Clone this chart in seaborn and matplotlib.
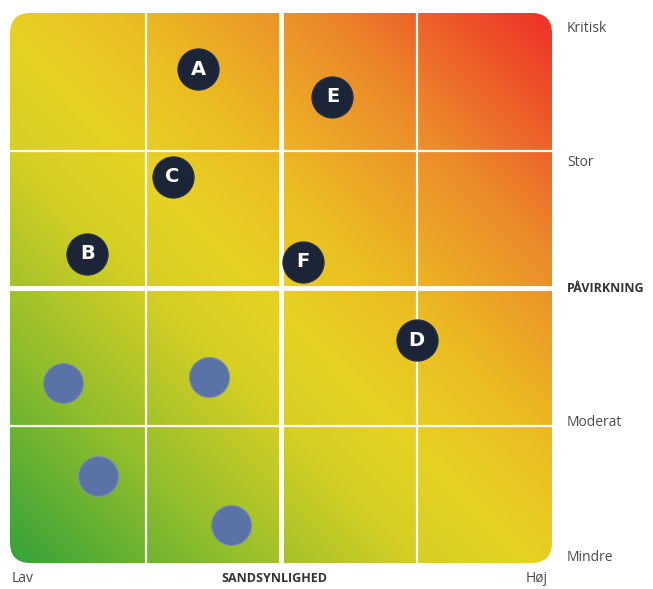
import numpy as np
import pandas as pd
import matplotlib
matplotlib.use("Agg")
import matplotlib.pyplot as plt
from matplotlib.colors import LinearSegmentedColormap
from matplotlib.patches import FancyBboxPatch
import seaborn as sns

# Named risks: probability (x) and impact (y) on a 0-4 scale
risk_labels = ["A", "B", "C", "D", "E", "F"]
risk_prob = [1.39, 0.57, 1.20, 3.00, 2.38, 2.16]
risk_impact = [3.59, 2.25, 2.81, 1.62, 3.39, 2.19]

# Unnamed (mitigated) risks
other_prob = [0.39, 1.47, 0.65, 1.63]
other_impact = [1.31, 1.35, 0.63, 0.28]

impact_levels = ["Mindre", "Moderat", "Stor", "Kritisk"]
impact_title = "PÅVIRKNING"
prob_title = "SANDSYNLIGHED"
prob_ends = ["Lav", "Høj"]

sns.set_theme(style="white")
plt.rcParams["font.family"] = ["Open Sans", "DejaVu Sans"]

fig = plt.figure(figsize=(6.53, 5.89), dpi=100)
ax = fig.add_axes([10 / 653, (589 - 563) / 589, 542 / 653, 550 / 589])
ax.set_xlim(0, 4)
ax.set_ylim(0, 4)
ax.set_axis_off()

# Diagonal heat gradient: green -> yellow -> orange -> red
cmap = LinearSegmentedColormap.from_list(
    "risk",
    [(0.0, "#35a23a"), (0.2, "#8fbd2c"), (0.38, "#d6cf24"), (0.48, "#e6d222"),
     (0.6, "#ebbd22"), (0.78, "#ec8a2a"), (1.0, "#ef3028")],
)
gx, gy = np.meshgrid(np.linspace(0, 4, 400), np.linspace(0, 4, 400))
t = (gx + gy) / 8
img = ax.imshow(t, extent=[0, 4, 0, 4], origin="lower", cmap=cmap,
                vmin=0, vmax=1, aspect="auto", interpolation="bilinear", zorder=0)
clip = FancyBboxPatch((0, 0), 4, 4, boxstyle="round,pad=0,rounding_size=0.15",
                      transform=ax.transData, facecolor="none", edgecolor="none")
ax.add_patch(clip)
img.set_clip_path(clip)

# Cell dividers
for v, lw in [(1, 1.6), (2, 3.5), (3, 1.6)]:
    ax.axvline(v, color="white", lw=lw, zorder=1)
    ax.axhline(v, color="white", lw=lw, zorder=1)

others = pd.DataFrame({"p": other_prob, "i": other_impact})
sns.scatterplot(data=others, x="p", y="i", ax=ax, s=830, color="#5a73a6",
                edgecolor="#7d8fa6", linewidth=0.8, zorder=3, legend=False)

risks = pd.DataFrame({"label": risk_labels, "p": risk_prob, "i": risk_impact})
sns.scatterplot(data=risks, x="p", y="i", ax=ax, s=880, color="#1c2438",
                edgecolor="#2b3146", linewidth=0.8, zorder=3, legend=False)
for _, r in risks.iterrows():
    ax.text(r.p, r.i, r.label, color="white", fontsize=14, fontweight="bold",
            ha="center", va="center", zorder=4, family=["DejaVu Sans"])
ax.set_xlabel("")
ax.set_ylabel("")

# Impact labels on the right
label_color = "#4a4a4a"
for lvl, y in zip(impact_levels, [0.04, 1.02, 2.91, 3.89]):
    ax.text(4.11, y, lvl, ha="left", va="center", fontsize=10,
            color=label_color, clip_on=False)
ax.text(4.11, 2.0, impact_title, ha="left", va="center", fontsize=9,
        fontweight="bold", color="#333333", clip_on=False)

# Probability labels below
ax.text(0.01, -0.11, prob_ends[0], ha="left", va="center", fontsize=10,
        color=label_color, clip_on=False)
ax.text(3.97, -0.11, prob_ends[1], ha="right", va="center", fontsize=10,
        color=label_color, clip_on=False)
ax.text(1.95, -0.11, prob_title, ha="center", va="center", fontsize=9,
        fontweight="bold", color="#333333", clip_on=False)

fig.savefig("out.png", dpi=100, facecolor="white")
